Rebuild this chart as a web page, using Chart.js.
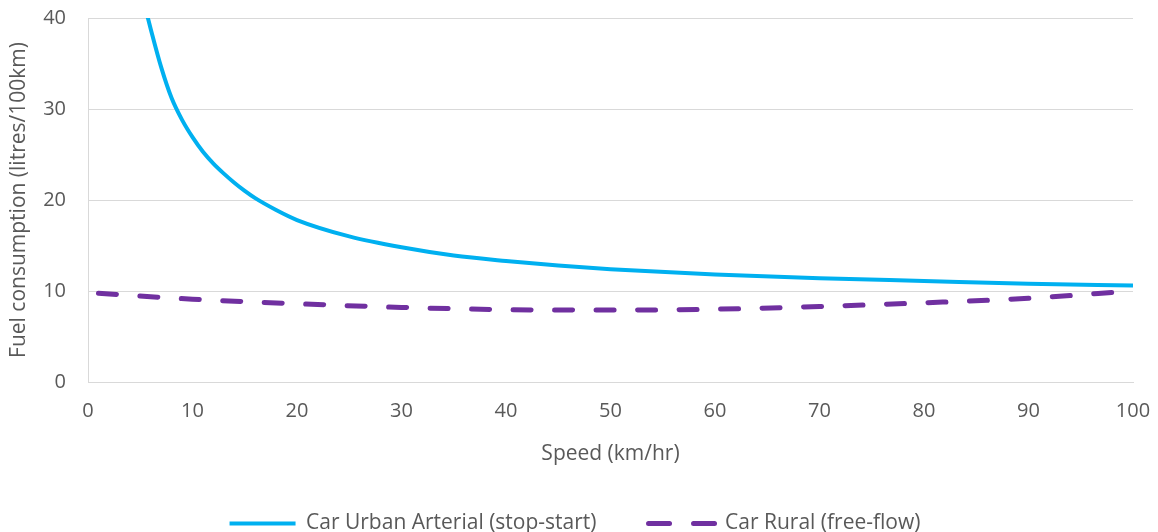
<!DOCTYPE html>
<html>
<head>
<meta charset="utf-8">
<script src="https://cdn.jsdelivr.net/npm/chart.js@4"></script>
<style>
  html, body { margin: 0; padding: 0; background: #fff; }
  #wrap { width: 1158px; height: 532px; }
</style>
</head>
<body>
<div id="wrap"><canvas id="fuelChart"></canvas></div>
<script>
// Values
const urbanSpeed = [5.6, 6, 7, 8, 9, 10, 11, 12, 13, 14, 15, 16, 18, 20, 25, 30, 35, 40, 45, 50, 60, 70, 80, 90, 100];
const urbanFuel  = [40.6, 38.8, 34.6, 31.2, 28.8, 26.9, 25.3, 24.0, 22.9, 21.9, 21.0, 20.2, 18.9, 17.8, 16.0, 14.8, 13.9, 13.3, 12.8, 12.4, 11.8, 11.4, 11.1, 10.8, 10.6];

const ruralSpeed = [1, 10, 20, 30, 40, 50, 60, 70, 80, 90, 100];
const ruralFuel  = [9.75, 9.1, 8.6, 8.2, 7.95, 7.9, 8.0, 8.3, 8.7, 9.2, 10.0];

const seriesNames = ['Car Urban Arterial (stop-start)', 'Car Rural (free-flow)'];

const textColor = '#595959';
const gridColor = '#d9d9d9';
const fontFamily = '"Open Sans", "Noto Sans", sans-serif';
const legendDash = [21, 24];

function toPoints(xs, ys) {
    return xs.map((x, i) => ({ x: x, y: ys[i] }));
}

const ctx = document.getElementById('fuelChart').getContext('2d');

new Chart(ctx, {
    type: 'line',
    data: {
        datasets: [{
            label: seriesNames[0],
            data: toPoints(urbanSpeed, urbanFuel),
            borderColor: '#00b0f0',
            backgroundColor: '#00b0f0',
            borderWidth: 4,
            pointRadius: 0,
            cubicInterpolationMode: 'monotone',
            fill: false
        }, {
            label: seriesNames[1],
            data: toPoints(ruralSpeed, ruralFuel),
            borderColor: '#7030a0',
            backgroundColor: '#7030a0',
            borderWidth: 5,
            borderDash: [18, 23.5],
            borderCapStyle: 'round',
            pointRadius: 0,
            cubicInterpolationMode: 'monotone',
            fill: false
        }]
    },
    options: {
        responsive: true,
        maintainAspectRatio: false,
        animation: false,
        layout: {
            padding: { top: 18, right: 25, left: 17, bottom: -12 }
        },
        plugins: {
            tooltip: { enabled: false },
            legend: {
                position: 'bottom',
                labels: {
                    usePointStyle: true,
                    pointStyle: 'line',
                    pointStyleWidth: 66,
                    color: textColor,
                    padding: 52,
                    font: { family: fontFamily, size: 21 },
                    generateLabels: function(chart) {
                        const items = Chart.defaults.plugins.legend.labels.generateLabels(chart);
                        items.forEach((item, i) => {
                            const ds = chart.data.datasets[i];
                            item.lineWidth = ds.borderWidth;
                            item.lineDash = ds.borderDash ? legendDash : [];
                            item.lineCap = ds.borderCapStyle || 'butt';
                        });
                        return items;
                    }
                }
            }
        },
        scales: {
            x: {
                type: 'linear',
                min: 0,
                max: 100,
                // ticks kept but hidden: their length spaces the labels
                grid: { display: false, drawTicks: true, tickLength: 15 },
                border: { display: true, color: gridColor, width: 1 },
                ticks: {
                    stepSize: 10,
                    color: textColor,
                    padding: 2,
                    font: { family: fontFamily, size: 20 }
                },
                title: {
                    display: true,
                    text: 'Speed (km/hr)',
                    color: textColor,
                    padding: { top: 0, bottom: -6 },
                    font: { family: fontFamily, size: 21 }
                },
                afterFit: function(scale) {
                    scale.height = 79;
                }
            },
            y: {
                min: 0,
                max: 40,
                grid: { color: gridColor, lineWidth: 1, drawTicks: true, tickLength: 18, tickColor: 'rgba(0,0,0,0)' },
                border: { display: true, color: gridColor, width: 1 },
                ticks: {
                    stepSize: 10,
                    color: textColor,
                    padding: 4,
                    font: { family: fontFamily, size: 20 }
                },
                title: {
                    display: true,
                    text: 'Fuel consumption (litres/100km)',
                    color: textColor,
                    padding: { top: -11, bottom: 0 },
                    font: { family: fontFamily, size: 21 }
                },
                afterFit: function(scale) {
                    scale.width = 71;
                }
            }
        }
    }
});
</script>
</body>
</html>
